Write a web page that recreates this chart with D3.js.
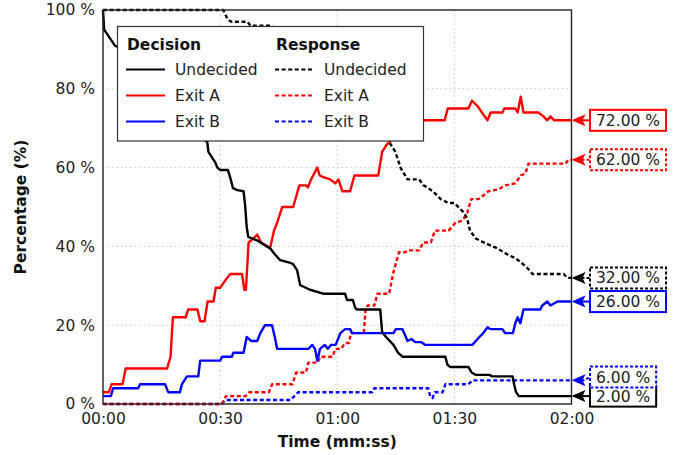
<!DOCTYPE html>
<html>
<head>
<meta charset="utf-8">
<script src="https://cdn.jsdelivr.net/npm/d3@7"></script>
<style>
  html, body { margin: 0; padding: 0; background: #fff; }
  svg { display: block; font-family: "DejaVu Sans", sans-serif; }
</style>
</head>
<body>
<svg id="chart" width="677" height="455"></svg>
<script>
// Time in seconds, share in percent
const decisionUndecided = [[0,100],[0.3,95],[1,94],[3,91],[5,90],[6,87],[10,86],[16.5,86],[17.8,75],[20.5,74],[21.5,71],[24.5,69],[26,67],[26.7,66.5],[27,64],[28.7,61.4],[29.3,60],[30,59.4],[32,59.4],[32.6,57.4],[33.3,54.8],[34.4,54.3],[36,54],[36.4,50.5],[36.8,45],[37.2,42.4],[39.5,41.5],[42.8,39.5],[44,38],[45.4,36.5],[48,35.8],[48.7,35.5],[49.7,34],[50.5,30.2],[53,29],[56.4,28],[62,28],[62.5,26.4],[64,26.4],[64.6,24.4],[65,24],[71,24],[71.5,18.3],[72.5,17],[74.4,15],[75.6,13],[76.7,12],[87.7,12],[88.2,10],[88.9,9.4],[93.6,9.4],[94.4,8],[95.5,7.4],[99,7.4],[99.7,7],[104.9,7],[105.3,5],[105.8,3],[106.5,2],[120,2]];
const decisionExitA = [[0,3],[1.5,3],[2.2,5],[5,5],[5.8,9],[16.4,9],[17.3,12],[17.9,22],[21.2,22],[21.8,24],[24.2,24],[24.9,21],[26,21],[26.8,26],[28.3,26],[28.9,29.5],[30,29.5],[31.8,32],[32.6,33],[35.6,33],[36.2,29],[36.6,29],[37.3,41],[38.5,42],[39.5,43],[40.5,41],[42.8,39.6],[43.8,44],[44.6,46],[45.9,50],[48.7,50],[50.3,55.5],[52,55.5],[52.5,55],[53.3,57],[54.9,60],[55.5,58],[56.4,57.6],[58.2,57],[59.5,56],[60.3,57],[61.3,54],[63.3,54],[64.4,58],[70.5,58],[71.5,64],[72.8,66],[74,67],[76,69],[79,71],[82,72],[87.5,72],[88.3,75],[93.6,75],[94.5,77],[96,75.5],[97.4,73.5],[98.5,72],[99.3,74],[102.3,74],[102.8,75],[105.6,75],[106.2,74],[107,78],[107.7,74],[111.5,74],[112.8,73],[113.8,72],[114.6,73],[115.6,72],[120,72]];
const decisionExitB = [[0,2],[2,2],[2.6,4],[9,4],[9.5,5],[15.9,5],[16.7,3],[19.7,3],[20.2,5],[21.5,7],[24.4,7],[24.9,11],[30,11],[30.5,12],[33,12],[33.4,13],[36,13],[36.8,17],[38,16],[39.5,16],[40.3,18],[41.5,20],[43.3,20],[44,17],[44.6,14],[52.6,14],[53.6,15],[54.3,14],[54.9,11],[55.6,14],[56.8,15],[57.6,14],[58.4,15],[59.6,15],[60.8,18],[62,19],[63.3,19],[63.8,18],[74.4,18],[75,19],[76.7,19],[78,16],[79,16.5],[80,15.7],[81.5,15.7],[82.6,15],[94.6,15],[95.5,16],[96.4,17],[97.4,18],[98.5,19.5],[99.2,19],[102.3,19],[103,18],[105,18],[105.6,20.5],[106.2,22],[106.9,20.5],[107.7,24],[112,24],[112.5,25],[113.8,26],[114.6,25],[116.4,26],[120,26]];
const responseUndecided = [[0,100],[30.8,100],[32,97.5],[33,97],[37,97],[37.8,96],[43,96],[45,95],[48,94],[50,92],[52,89],[55,87],[59,85],[62,82],[64,80],[67,76],[68,72],[70,71],[72.5,68],[73.6,66],[74.9,64],[76.2,60],[78,57],[81,57],[82,55.6],[84.5,54],[86.5,52],[88.5,51],[90,51],[91,50],[92.5,48.5],[93.3,47],[94,44],[95.5,42],[97.5,41],[100.8,39.6],[103.5,38],[105.6,37],[107,36],[108.7,34.5],[110,33],[118,33],[119,32],[120,32]];
const responseExitA = [[0,0],[30.5,0],[31.5,2],[36.5,2],[37.5,3],[42.5,3],[43.3,5],[48.5,5],[49.5,8],[52,8],[52.6,10.5],[55,10.5],[55.6,12],[58.8,12],[59.5,14],[61,14],[62,15.5],[63,15.5],[63.5,18],[66.8,18],[67.3,24.5],[67.8,25],[69.5,25],[70.3,28],[73.3,28],[74.4,33.5],[75.8,38.5],[77.4,38.5],[78,39],[81,39],[82,41],[84,41],[85,44],[88.5,44],[90.3,46],[92,46.5],[93.3,48.5],[94.3,52],[96.2,52],[97.5,53],[98.7,54],[101.3,54.5],[103,55.5],[105.6,56],[107,58],[108.2,58.5],[109,61],[118.5,61],[119.2,62],[120,62]];
const responseExitB = [[0,0],[30.3,0],[31.3,1],[48,1],[49,2],[50,3],[69,3],[69.5,4],[83.3,4],[83.8,2],[84.4,1.5],[85,3],[87,3],[87.7,5],[93.6,5],[94.6,6],[120,6]];

const xTickSeconds = [0, 30, 60, 90, 120];
const xTickLabels = ["00:00", "00:30", "01:00", "01:30", "02:00"];
const yTickValues = [0, 20, 40, 60, 80, 100];

const groupTitles = ["Decision", "Response"];
const seriesNames = ["Undecided", "Exit A", "Exit B"];
const seriesColors = ["#000000", "#ff0000", "#0000ff"];

const series = [
  { group: 0, idx: 0, data: decisionUndecided },
  { group: 0, idx: 1, data: decisionExitA },
  { group: 0, idx: 2, data: decisionExitB },
  { group: 1, idx: 0, data: responseUndecided },
  { group: 1, idx: 1, data: responseExitA },
  { group: 1, idx: 2, data: responseExitB }
];

const svg = d3.select("#chart");
const plot = { left: 103, right: 571.5, top: 10, bottom: 404 };
const fontSize = 15.5;
const dash = "4,2.6";

const x = d3.scaleLinear().domain([0, 120]).range([plot.left, plot.right]);
const y = d3.scaleLinear().domain([0, 100]).range([plot.bottom, plot.top]);

// grid
const grid = svg.append("g").attr("stroke", "#c4c4c4").attr("stroke-width", 1).attr("stroke-dasharray", "1.5,3");
grid.selectAll("line.gx").data(xTickSeconds.slice(1, -1)).join("line")
  .attr("x1", d => x(d)).attr("x2", d => x(d)).attr("y1", plot.top).attr("y2", plot.bottom);
grid.selectAll("line.gy").data(yTickValues.slice(1, -1)).join("line")
  .attr("x1", plot.left).attr("x2", plot.right).attr("y1", d => y(d)).attr("y2", d => y(d));

// axes (labels only, no tick marks)
const xAxis = d3.axisBottom(x).tickValues(xTickSeconds)
  .tickFormat((d, i) => xTickLabels[i]).tickSize(0).tickPadding(9);
const yAxis = d3.axisLeft(y).tickValues(yTickValues)
  .tickFormat(d => d + " %").tickSize(0).tickPadding(8);

const gx = svg.append("g").attr("transform", `translate(0,${plot.bottom})`).call(xAxis);
const gy = svg.append("g").attr("transform", `translate(${plot.left},0)`).call(yAxis);
[gx, gy].forEach(g => {
  g.select(".domain").remove();
  g.selectAll("text").attr("font-family", "DejaVu Sans").attr("font-size", fontSize).attr("fill", "#222");
});

svg.append("text")
  .attr("x", (plot.left + plot.right) / 2).attr("y", 447)
  .attr("text-anchor", "middle").attr("font-weight", "bold").attr("font-size", fontSize).attr("fill", "#111")
  .text("Time (mm:ss)");
svg.append("text")
  .attr("transform", `translate(26,${(plot.top + plot.bottom) / 2}) rotate(-90)`)
  .attr("text-anchor", "middle").attr("font-weight", "bold").attr("font-size", fontSize).attr("fill", "#111")
  .text("Percentage (%)");

// series lines
const line = d3.line().x(d => x(d[0])).y(d => y(d[1]));
const lines = svg.append("g").attr("fill", "none");
[...series].reverse().forEach(s => {
  lines.append("path")
    .attr("d", line(s.data))
    .attr("stroke", seriesColors[s.idx])
    .attr("stroke-width", 2.4)
    .attr("stroke-linejoin", "round")
    .attr("stroke-dasharray", s.group === 1 ? dash : null);
});

// legend
const lg = svg.append("g");
lg.append("rect").attr("x", 117.5).attr("y", 26.5).attr("width", 306).attr("height", 114.5)
  .attr("fill", "#fff").attr("stroke", "#333").attr("stroke-width", 1.2);
const colX = [126, 275];
groupTitles.forEach((t, g) => {
  lg.append("text").attr("x", colX[g] + 1).attr("y", 49.5)
    .attr("font-weight", "bold").attr("font-size", fontSize).attr("fill", "#111").text(t);
  seriesNames.forEach((n, i) => {
    const yy = 69.5 + i * 26;
    lg.append("line").attr("x1", colX[g]).attr("x2", colX[g] + 39).attr("y1", yy).attr("y2", yy)
      .attr("stroke", seriesColors[i]).attr("stroke-width", 2.2)
      .attr("stroke-dasharray", g === 1 ? dash : null);
    lg.append("text").attr("x", colX[g] + 49).attr("y", yy + 5.5)
      .attr("font-size", fontSize).attr("fill", "#222").text(n);
  });
});

// frame
svg.append("rect").attr("x", plot.left).attr("y", plot.top)
  .attr("width", plot.right - plot.left).attr("height", plot.bottom - plot.top)
  .attr("fill", "none").attr("stroke", "#222").attr("stroke-width", 1.4);

// end-value callouts: label positions start at the line ends and are pushed
// apart (upwards) when two of them would collide
const minGap = 19;
const ends = series.map((s, i) => {
  const last = s.data[s.data.length - 1];
  return { s, i, last, vy: y(last[1]), ly: y(last[1]) };
});
const byY = [...ends].sort((a, b) => b.ly - a.ly);
for (let k = 1; k < byY.length; k++) {
  if (byY[k - 1].ly - byY[k].ly < minGap) byY[k].ly = byY[k - 1].ly - minGap;
}

const callouts = svg.append("g");
ends.forEach(e => {
  const s = e.s;
  const tipX = x(e.last[0]);
  const vy = e.vy, ly = e.ly;
  const color = seriesColors[s.idx];
  const boxX = 590;
  const g = callouts.append("g");
  g.append("path").attr("d", `M${tipX + 10},${vy} L${boxX - 6},${vy} L${boxX},${ly}`)
    .attr("fill", "none").attr("stroke", color).attr("stroke-width", 2)
    .attr("stroke-dasharray", s.group === 1 ? "3,2" : null);
  g.append("path")
    .attr("d", `M${tipX},${vy} L${tipX + 14},${vy - 6} L${tipX + 11},${vy} L${tipX + 14},${vy + 6} Z`)
    .attr("fill", color);
  const label = g.append("text").attr("x", boxX + 6).attr("y", ly + 5.5)
    .attr("font-size", fontSize).attr("fill", "#222")
    .text(e.last[1].toFixed(2) + " %");
  const w = label.node().getComputedTextLength();
  g.insert("rect", "text").attr("x", boxX).attr("y", ly - 10.5).attr("width", w + 12).attr("height", 21)
    .attr("fill", "#fff").attr("stroke", color).attr("stroke-width", 2)
    .attr("stroke-dasharray", s.group === 1 ? "3,2" : null);
});
</script>
</body>
</html>
